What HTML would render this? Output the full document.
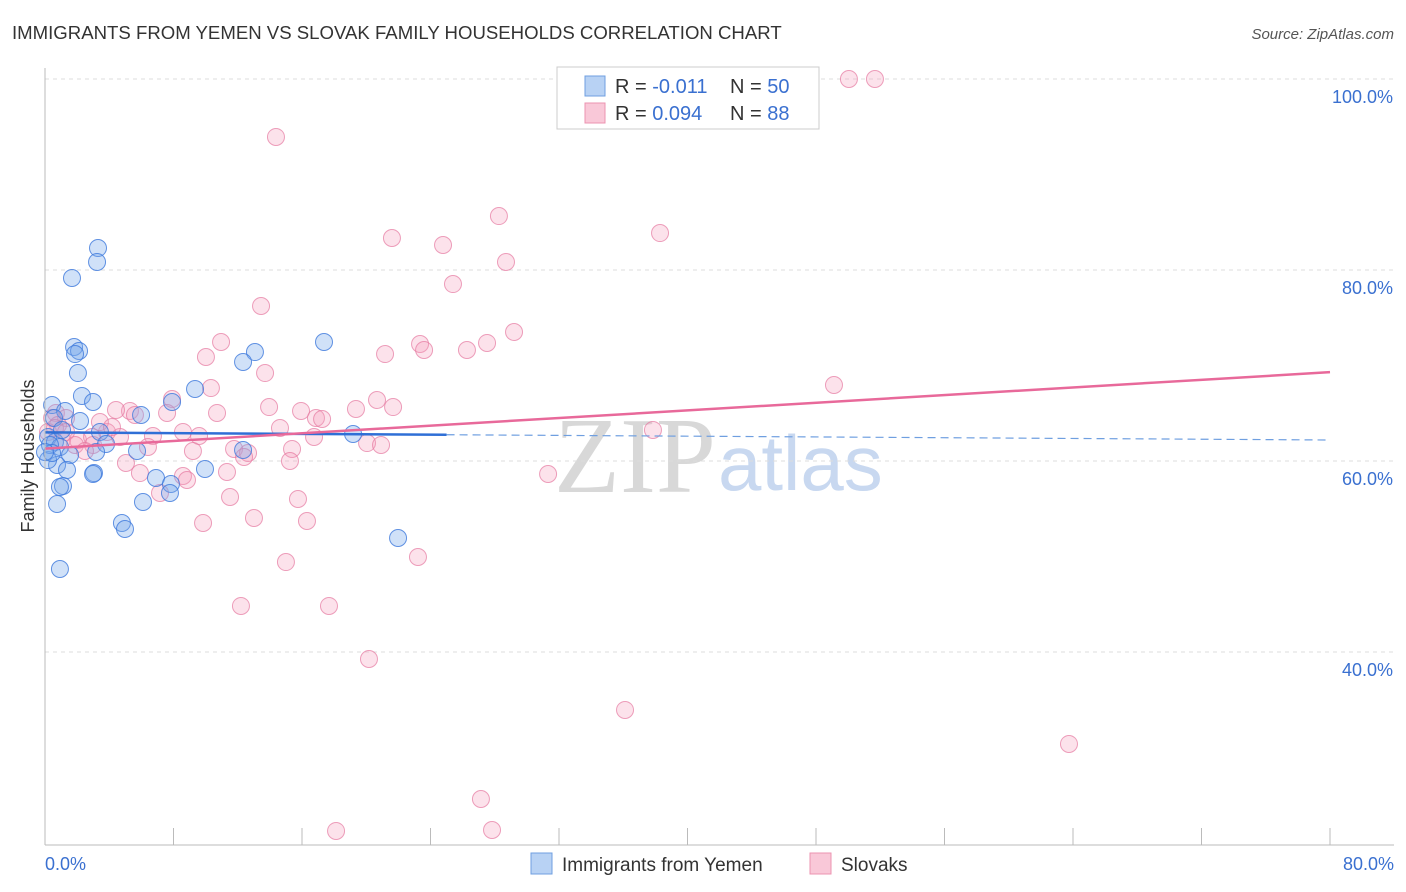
<!DOCTYPE html>
<html><head><meta charset="utf-8"><style>
body{margin:0;background:#fff;font-family:"Liberation Sans",sans-serif}
svg{display:block}
</style></head><body>
<svg id="c" width="1406" height="892">
<text x="12" y="39" font-size="18.6" fill="#333">IMMIGRANTS FROM YEMEN VS SLOVAK FAMILY HOUSEHOLDS CORRELATION CHART</text>
<text x="1394" y="39" font-size="15" fill="#555" font-style="italic" text-anchor="end">Source: ZipAtlas.com</text>
<text x="34" y="456" font-size="18" fill="#333" text-anchor="middle" transform="rotate(-90 34 456)">Family Households</text>
<text x="716" y="492" font-size="108" fill="#d8d8d8" font-family="Liberation Serif,serif" text-anchor="end">ZIP</text>
<text x="718" y="490" font-size="78" fill="#c8d8f0" text-anchor="start">atlas</text>
<g id="grid"></g><g id="pts"></g><g id="trend"></g>
<line x1="45" y1="68" x2="45" y2="845" stroke="#bbb"/>
<line x1="45" y1="845" x2="1394" y2="845" stroke="#bbb"/>
<text x="45" y="870" font-size="18" fill="#3a70d0">0.0%</text>
<text x="1394" y="870" font-size="18" fill="#3a70d0" text-anchor="end">80.0%</text>
<g>
<rect x="557" y="67" width="262" height="62" fill="#fff" stroke="#ccc"/>
<rect x="585" y="76" width="20" height="20" fill="#b8d2f4" stroke="#6f9fe0"/>
<rect x="585" y="103" width="20" height="20" fill="#f9c8d8" stroke="#ec93b0"/>
<text x="615" y="93" font-size="20" fill="#333">R = <tspan fill="#3a70d0">-0.011</tspan><tspan x="730">N = </tspan><tspan fill="#3a70d0">50</tspan></text>
<text x="615" y="120" font-size="20" fill="#333">R = <tspan fill="#3a70d0"> 0.094</tspan><tspan x="730">N = </tspan><tspan fill="#3a70d0"> 88</tspan></text>
</g>
<g>
<rect x="531" y="853" width="21" height="21" fill="#b8d2f4" stroke="#6f9fe0"/>
<text x="562" y="871" font-size="19" fill="#333">Immigrants from Yemen</text>
<rect x="810" y="853" width="21" height="21" fill="#f9c8d8" stroke="#ec93b0"/>
<text x="841" y="871" font-size="19" fill="#333">Slovaks</text>
</g>
</svg>
<script>
const yTicks=[40,60,80,100];
const yTickLabels=["40.0%","60.0%","80.0%","100.0%"];
const xTicks=[0,8,16,24,32,40,48,56,64,72,80];
const bluePx=[[98,248],[97,262],[72,278],[324,342],[74,347],[79,351],[75,354],[255,352],[243,362],[78,373],[195,389],[82,396],[93,402],[172,402],[52,405],[65,411],[141,415],[80,421],[54,418],[48,437],[55,442],[100,432],[106,444],[137,451],[60,447],[70,455],[353,434],[243,450],[96,452],[205,469],[57,465],[67,470],[94,473],[93,474],[156,478],[171,484],[63,486],[60,487],[170,493],[143,502],[57,504],[122,523],[125,529],[398,538],[60,569],[48,460],[50,445],[52,453],[45,452],[62,430]];
const pinkPx=[[849,79],[875,79],[276,137],[499,216],[660,233],[392,238],[443,245],[506,262],[453,284],[261,306],[514,332],[221,342],[420,344],[487,343],[424,350],[385,354],[467,350],[206,357],[265,373],[834,385],[211,388],[172,399],[377,400],[393,407],[269,407],[301,411],[356,409],[130,411],[217,413],[116,410],[135,415],[167,413],[316,418],[322,419],[56,413],[66,418],[280,428],[653,430],[107,432],[153,436],[183,432],[199,436],[314,437],[78,440],[92,437],[120,437],[148,447],[93,445],[193,451],[234,449],[367,443],[381,445],[248,453],[244,457],[292,449],[290,461],[126,463],[140,473],[227,472],[183,476],[187,480],[160,493],[548,474],[230,497],[298,499],[254,518],[307,521],[203,523],[418,557],[286,562],[241,606],[329,606],[369,659],[625,710],[1069,744],[481,799],[336,831],[492,830],[52,418],[58,425],[48,432],[62,440],[55,428],[66,432],[100,422],[112,427],[75,445],[85,451]];
const blueX=bluePx.map(p=>+((p[0]-45)/16.0625).toFixed(2));
const blueY=bluePx.map(p=>+(100-(p[1]-79)/9.55).toFixed(2));
const pinkX=pinkPx.map(p=>+((p[0]-45)/16.0625).toFixed(2));
const pinkY=pinkPx.map(p=>+(100-(p[1]-79)/9.55).toFixed(2));
const blueTrend=[63.0,62.2];
const pinkTrend=[61.3,69.3];
const X=v=>45+v*16.0625, Y=v=>79+(100-v)*9.55;
const NS="http://www.w3.org/2000/svg";
function mk(t,a,p){const e=document.createElementNS(NS,t);for(const k in a)e.setAttribute(k,a[k]);p.appendChild(e);return e;}
const g=document.getElementById('grid');
yTicks.forEach((v,i)=>{
 const l=mk('line',{x1:45,x2:1394,y1:Y(v),y2:Y(v),stroke:'#ddd','stroke-dasharray':'4,4'},g);
 
 
 const t=mk('text',{x:1393,y:Y(v)+24,'font-size':18,fill:'#3a70d0','text-anchor':'end'},g);
 t.textContent=yTickLabels[i];
 
 
});
xTicks.forEach(v=>{
 const l=mk('line',{x1:X(v),x2:X(v),y1:828,y2:845,stroke:'#bbb'},g);
 
 
});
const pg=document.getElementById('pts');
pinkX.forEach((x,i)=>{
 const c=mk('circle',{cx:X(x),cy:Y(pinkY[i]),r:8.5,fill:'rgba(244,160,188,0.3)',stroke:'rgba(230,120,160,0.7)','stroke-width':1},pg);
 
 
});
blueX.forEach((x,i)=>{
 const c=mk('circle',{cx:X(x),cy:Y(blueY[i]),r:8.5,fill:'rgba(120,170,235,0.35)',stroke:'rgba(60,120,220,0.8)','stroke-width':1},pg);
 
 
});
const tg=document.getElementById('trend');
const bAt=x=>blueTrend[0]+(blueTrend[1]-blueTrend[0])*x/80;
let l1=mk('line',{x1:X(0),y1:Y(bAt(0)),x2:X(25),y2:Y(bAt(25)),stroke:'#2f6fd6','stroke-width':2.5},tg);


let l2=mk('line',{x1:X(25),y1:Y(bAt(25)),x2:X(80),y2:Y(bAt(80)),stroke:'#6f9fe0','stroke-width':1.2,'stroke-dasharray':'8,5'},tg);


let l3=mk('line',{x1:X(0),y1:Y(pinkTrend[0]),x2:X(80),y2:Y(pinkTrend[1]),stroke:'#e8699a','stroke-width':2.5},tg);


</script>
</body></html>
